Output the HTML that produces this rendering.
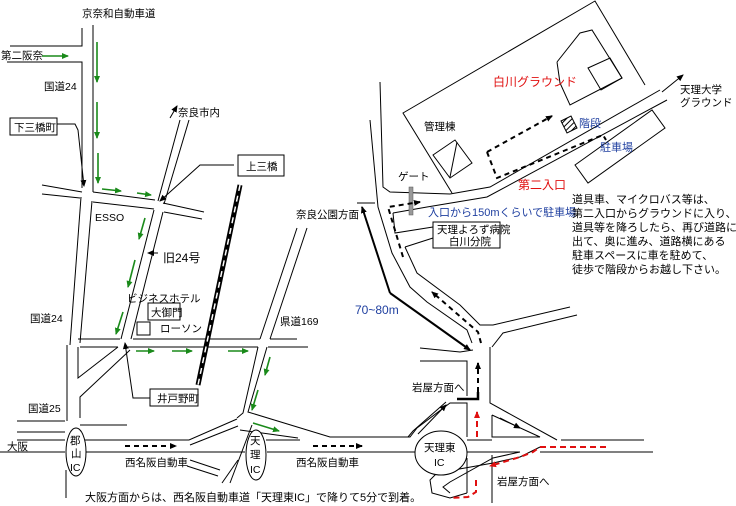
<!DOCTYPE html>
<html><head><meta charset="utf-8"><style>
html,body{margin:0;padding:0;background:#fff;}
svg{display:block;font-family:"Liberation Sans","Noto Sans CJK JP",sans-serif;}
</style></head><body>
<svg width="736" height="506" viewBox="0 0 736 506" xmlns="http://www.w3.org/2000/svg">
<defs>
<marker id="ab" markerWidth="8" markerHeight="8" refX="6" refY="4" orient="auto" markerUnits="userSpaceOnUse"><path d="M0,1 L7,4 L0,7 Z" fill="#000"/></marker>
<marker id="ag" markerWidth="8" markerHeight="8" refX="6" refY="4" orient="auto" markerUnits="userSpaceOnUse"><path d="M0,1 L7,4 L0,7 Z" fill="#1a8a1a"/></marker>
<marker id="ar" markerWidth="8" markerHeight="8" refX="6" refY="4" orient="auto" markerUnits="userSpaceOnUse"><path d="M0,1 L7,4 L0,7 Z" fill="#e01010"/></marker>
<pattern id="hatch" width="4" height="4" patternUnits="userSpaceOnUse" patternTransform="rotate(45)"><rect width="4" height="4" fill="#fff"/><line x1="0" y1="0" x2="0" y2="4" stroke="#000" stroke-width="2"/></pattern>
</defs>
<g fill="none" stroke="#000" stroke-width="1">
<polyline points="82,28 82,46 10,46"/>
<polyline points="7,62 82,62 82,188"/>
<line x1="93" y1="25" x2="93" y2="192"/>
<polyline points="42,185 82,192"/>
<polyline points="42,194 80,198"/>
<polyline points="93,192 155,200"/>
<polyline points="93,202 154,209"/>
<polyline points="163,203 204,212"/>
<polyline points="164,212 202,219"/>
<line x1="81" y1="197" x2="70" y2="345"/>
<line x1="92" y1="201" x2="80" y2="343"/>
<line x1="158" y1="201" x2="180" y2="120"/>
<line x1="164" y1="204" x2="189" y2="120"/>
<line x1="154" y1="210" x2="121" y2="339"/>
<line x1="163" y1="212" x2="131" y2="339"/>
<polyline points="78,339 120,339"/>
<polyline points="133,339 260,339"/>
<polyline points="270,339 297,339"/>
<polyline points="80,347 118,347"/>
<polyline points="128,347 258,347"/>
<polyline points="268,347 308,347"/>
<polyline points="78,347 78,378 118,347"/>
<polyline points="130,350 80,397 80,418"/>
<line x1="67" y1="345" x2="67" y2="421"/>
<line x1="17" y1="421" x2="65" y2="421"/>
<line x1="80" y1="425" x2="127" y2="425"/>
<line x1="17" y1="432" x2="65" y2="432"/>
<line x1="66" y1="470" x2="66" y2="498"/>
<polyline points="297,228 260,339"/>
<polyline points="307,228 270,339"/>
<polyline points="258,347 243,413 237,418"/>
<polyline points="267,347 248,412 330,437 410,437 417,428 450,403 467,403 467,437"/>
<polyline points="252,425 230,483"/>
<polyline points="238,460 222,483"/>
<line x1="17" y1="440" x2="65" y2="440"/>
<polyline points="85,440 189,440 237,419"/>
<polyline points="190,445 238,426"/>
<polyline points="240,430 298,438"/>
<line x1="266" y1="440" x2="300" y2="440"/>
<line x1="0" y1="452" x2="65" y2="452"/>
<line x1="86" y1="452" x2="245" y2="452"/>
<line x1="267" y1="452" x2="417" y2="452"/>
<polyline points="190,460 220,470"/>
<polyline points="187,466 218,476"/>
<line x1="467" y1="440" x2="492" y2="440"/>
<line x1="561" y1="440" x2="644" y2="440"/>
<line x1="464" y1="452" x2="520" y2="452"/>
<line x1="540" y1="452" x2="653" y2="452"/>
<polyline points="420,361 467,361 467,396"/>
<line x1="467" y1="458" x2="467" y2="493"/>
<polyline points="408,437 413,431 446,402"/>
<polyline points="490,347 490,403 557,440"/>
<polyline points="492,415 492,437 540,437 492,415"/>
<line x1="492" y1="455" x2="492" y2="503"/>
<polyline points="540,447 520,457 493,463 437,473 430,480 432,493 450,498 467,493"/>
<polyline points="520,452 493,458 450,482 443,487 450,493"/>
<polyline points="370,120 378,207 392,253 410,287 427,302 467,330 472,343"/>
<polyline points="420,348 460,352 473,350"/>
<polyline points="380,82 383,187 390,192 450,194 490,187 660,90"/>
<polyline points="393,213 427,207 487,197 667,100"/>
<polyline points="393,213 395,233 433,227"/>
<polyline points="405,247 433,238"/>
<polyline points="405,247 417,273 460,305 480,325 493,325 570,307"/>
<polyline points="577,315 503,333 492,347"/>
<polyline points="452,193 403,113 595,1 645,85"/>
<polyline points="557,62 580,33 592,30 622,78 570,105 560,83 557,62"/>
<polygon points="588,68 610,58 622,78 601,90"/>
<polygon points="433,155 455,140 472,163 450,178"/>
<line x1="457" y1="142" x2="450" y2="177"/>
<polygon points="575,165 652,110 665,128 588,183"/>
<line x1="662" y1="92" x2="683" y2="75" marker-end="url(#ab)"/>
<line x1="357" y1="203" x2="375" y2="203"/>
</g>
<line x1="240" y1="185" x2="198" y2="385" stroke="#000" stroke-width="5"/>
<line x1="240" y1="185" x2="198" y2="385" stroke="#fff" stroke-width="1.5" stroke-dasharray="6,5"/>
<rect x="409" y="187" width="4" height="28" fill="#999" stroke="#555" stroke-width="0.5"/>
<polygon points="561,121 571,116 577,128 567,133" fill="url(#hatch)" stroke="#000" stroke-width="1"/>
<g fill="#fff" stroke="#000">
<ellipse cx="76" cy="452" rx="10" ry="24"/>
<ellipse cx="256" cy="455" rx="10" ry="25"/>
<ellipse cx="441" cy="453" rx="26" ry="22"/>
</g>
<g stroke="#000" stroke-width="1" fill="none">
<polyline points="57,124 75,124 78,130 84,186" marker-end="url(#ab)"/>
<polyline points="234,165 200,165 160,201" marker-end="url(#ab)"/>
<line x1="170" y1="118" x2="177" y2="106" marker-end="url(#ab)"/>
<line x1="158" y1="253" x2="148" y2="253" marker-end="url(#ab)"/>
<polyline points="150,398 133,398 125,343" marker-end="url(#ab)"/>
<line x1="418" y1="434" x2="446" y2="405" marker-end="url(#ab)"/>
<line x1="500" y1="418" x2="520" y2="428" marker-end="url(#ab)"/>
</g>
<polyline points="390,293 362,207" stroke="#000" stroke-width="2" fill="none" marker-end="url(#ab)"/>
<polyline points="390,293 470,350" stroke="#000" stroke-width="2" fill="none" marker-end="url(#ab)"/>
<g stroke="#000" stroke-width="2" fill="none" stroke-dasharray="5,4">
<line x1="125" y1="446" x2="176" y2="446" marker-end="url(#ab)"/>
<line x1="313" y1="446" x2="362" y2="446" marker-end="url(#ab)"/>
<line x1="478" y1="392" x2="478" y2="363" marker-end="url(#ab)"/>
<polyline points="481,343 478,332 432,292" marker-end="url(#ab)"/>
<polyline points="403,257 388,207 420,202" marker-end="url(#ab)"/>
<line x1="487" y1="152" x2="552" y2="116" marker-end="url(#ab)"/>
<polyline points="487,152 497,178 603,135 606,140"/>
</g>
<polyline points="457,399 478,399 478,392" stroke="#000" stroke-width="2.5" fill="none"/>
<g stroke="#e01010" stroke-width="2" fill="none" stroke-dasharray="6,4">
<line x1="477" y1="437" x2="477" y2="412" marker-end="url(#ar)"/>
<polyline points="606,447 540,447 533,452 520,457 490,466" marker-end="url(#ar)"/>
<polyline points="476,480 476,492 468,497 450,498"/>
</g>
<g stroke="#1a8a1a" stroke-width="1.6" fill="none">
<line x1="42" y1="56" x2="68" y2="56" marker-end="url(#ag)"/>
<line x1="97" y1="42" x2="97" y2="82" marker-end="url(#ag)"/>
<line x1="97" y1="102" x2="97" y2="138" marker-end="url(#ag)"/>
<line x1="98" y1="153" x2="98" y2="183" marker-end="url(#ag)"/>
<line x1="102" y1="189" x2="121" y2="191" marker-end="url(#ag)"/>
<line x1="137" y1="193" x2="151" y2="195" marker-end="url(#ag)"/>
<line x1="145" y1="218" x2="139" y2="239" marker-end="url(#ag)"/>
<line x1="135" y1="260" x2="128" y2="287" marker-end="url(#ag)"/>
<line x1="123" y1="312" x2="116" y2="334" marker-end="url(#ag)"/>
<line x1="136" y1="351" x2="154" y2="351" marker-end="url(#ag)"/>
<line x1="172" y1="351" x2="192" y2="351" marker-end="url(#ag)"/>
<line x1="228" y1="351" x2="248" y2="351" marker-end="url(#ag)"/>
<line x1="270" y1="357" x2="265" y2="375" marker-end="url(#ag)"/>
<line x1="258" y1="390" x2="252" y2="410" marker-end="url(#ag)"/>
<line x1="253" y1="423" x2="279" y2="431" marker-end="url(#ag)"/>
</g>
<g fill="#fff" stroke="#000">
<rect x="10" y="118" width="47" height="17"/>
<rect x="238" y="155" width="46" height="21"/>
<rect x="148" y="303" width="32" height="17"/>
<rect x="137" y="322" width="13" height="13"/>
<rect x="150" y="389" width="48" height="17"/>
<rect x="433" y="222" width="67" height="26"/>
</g>
<g font-size="10.5" fill="#000">
<text x="82" y="17">京奈和自動車道</text>
<text x="1" y="59">第二阪奈</text>
<text x="44" y="90">国道24</text>
<text x="14" y="131">下三橋町</text>
<text x="178" y="116">奈良市内</text>
<text x="246" y="170">上三橋</text>
<text x="95" y="221">ESSO</text>
<text x="163" y="262" font-size="12">旧24号</text>
<text x="127" y="302">ビジネスホテル</text>
<text x="151" y="316">大御門</text>
<text x="160" y="332">ローソン</text>
<text x="280" y="325">県道169</text>
<text x="30" y="322">国道24</text>
<text x="157" y="402">井戸野町</text>
<text x="28" y="412">国道25</text>
<text x="7" y="450">大阪</text>
<text x="70" y="444">郡</text>
<text x="71" y="457">山</text>
<text x="70" y="471">IC</text>
<text x="250" y="444">天</text>
<text x="250" y="458">理</text>
<text x="250" y="473">IC</text>
<text x="125" y="466">西名阪自動車</text>
<text x="296" y="466">西名阪自動車</text>
<text x="424" y="451">天理東</text>
<text x="434" y="466">IC</text>
<text x="412" y="391">岩屋方面へ</text>
<text x="497" y="485">岩屋方面へ</text>
<text x="85" y="501" font-size="11">大阪方面からは、西名阪自動車道「天理東IC」で降りて5分で到着。</text>
<text x="296" y="218">奈良公園方面</text>
<text x="398" y="180">ゲート</text>
<text x="424" y="130">管理棟</text>
<text x="437" y="233">天理よろず病院</text>
<text x="449" y="245">白川分院</text>
<text x="680" y="93">天理大学</text>
<text x="680" y="106">グラウンド</text>
</g>
<g font-size="11" fill="#2040a0">
<text x="428" y="216">入口から150mくらいで駐車場</text>
<text x="579" y="127">階段</text>
<text x="600" y="151">駐車場</text>
<text x="355" y="314" font-size="12">70~80m</text>
</g>
<g font-size="12" fill="#e01010">
<text x="493" y="86">白川グラウンド</text>
<text x="518" y="189">第二入口</text>
</g>
<g font-size="11" fill="#000">
<text x="572" y="203">道具車、マイクロバス等は、</text>
<text x="572" y="217">第二入口からグラウンドに入り、</text>
<text x="572" y="231">道具等を降ろしたら、再び道路に</text>
<text x="572" y="245">出て、奥に進み、道路横にある</text>
<text x="572" y="259">駐車スペースに車を駐めて、</text>
<text x="572" y="273">徒歩で階段からお越し下さい。</text>
</g>
</svg>
</body></html>
